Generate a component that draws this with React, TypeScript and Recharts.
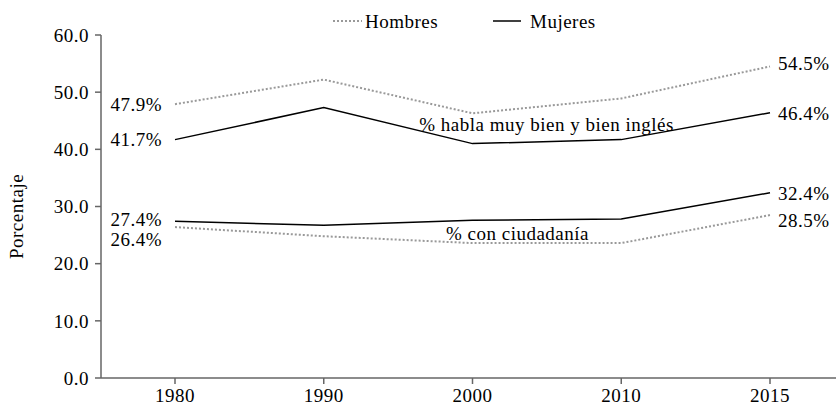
import React from "react";
import {
  LineChart,
  Line,
  XAxis,
  YAxis,
  Legend,
  LabelList,
  ReferenceDot,
} from "recharts";

const years = ["1980", "1990", "2000", "2010", "2015"];
const hombresIngles = [47.9, 52.2, 46.3, 48.9, 54.5];
const mujeresIngles = [41.7, 47.3, 41.0, 41.7, 46.4];
const hombresCiudadania = [26.4, 24.8, 23.6, 23.6, 28.5];
const mujeresCiudadania = [27.4, 26.7, 27.6, 27.8, 32.4];
const yTicks = [0, 10, 20, 30, 40, 50, 60];

const data = years.map((year, i) => ({
  year,
  hIngles: hombresIngles[i],
  mIngles: mujeresIngles[i],
  hCiudad: hombresCiudadania[i],
  mCiudad: mujeresCiudadania[i],
}));

const FONT = "'Liberation Serif', 'DejaVu Serif', serif";
const FS = 19;
const LS = 0.5;
const GRAY = "#999999";

const textStyle = { fontFamily: FONT, fontSize: FS, letterSpacing: LS, fill: "#000" };

// only the first and last points carry a value label
const endLabel = (dyLeft: number, dyRight: number) => (props: any) => {
  const { x, y, value, index } = props;
  if (index !== 0 && index !== years.length - 1) return null;
  const left = index === 0;
  return (
    <text
      x={left ? x - 13 : x + 8}
      y={y + (left ? dyLeft : dyRight)}
      textAnchor={left ? "end" : "start"}
      dominantBaseline="central"
      style={textStyle}
    >
      {value.toFixed(1)}%
    </text>
  );
};

const annotation = (text: string, dx: number) => (props: any) => {
  const { viewBox } = props;
  return (
    <text
      x={viewBox.x + dx}
      y={viewBox.y}
      textAnchor="middle"
      dominantBaseline="central"
      style={textStyle}
    >
      {text}
    </text>
  );
};

const yLabel = (props: any) => {
  const { viewBox } = props;
  const cx = 16;
  const cy = viewBox.y + viewBox.height / 2 + 10;
  return (
    <text
      x={cx}
      y={cy}
      transform={`rotate(-90 ${cx} ${cy})`}
      textAnchor="middle"
      dominantBaseline="central"
      style={textStyle}
    >
      Porcentaje
    </text>
  );
};

const LegendContent = () => (
  <svg width={836} height={24} style={{ display: "block" }}>
    <line x1={333} x2={362} y1={12} y2={12} stroke={GRAY} strokeWidth={2} strokeDasharray="2 2" />
    <text x={365} y={12} dominantBaseline="central" style={textStyle}>Hombres</text>
    <line x1={493} x2={521} y1={12} y2={12} stroke="#000" strokeWidth={1.5} />
    <text x={530} y={12} dominantBaseline="central" style={textStyle}>Mujeres</text>
  </svg>
);

export default function App() {
  return (
    <div style={{ width: 836, height: 411, overflow: "hidden", background: "#fff" }}>
      <style>{`body{margin:0}`}</style>
      <LineChart
        width={836}
        height={411}
        data={data}
        margin={{ top: 11, right: 0, left: 0, bottom: 0 }}
      >
        <Legend
          verticalAlign="top"
          content={<LegendContent />}
          wrapperStyle={{ top: 9, left: 0, width: 836 }}
        />
        <XAxis
          dataKey="year"
          height={33}
          padding={{ left: 74, right: 66 }}
          stroke="#666"
          strokeWidth={1.5}
          tickSize={6}
          tick={textStyle}
          tickMargin={5}
        />
        <YAxis
          width={101}
          domain={[0, 60]}
          ticks={yTicks}
          stroke="#666"
          strokeWidth={1.5}
          tickSize={6}
          tickMargin={6}
          tickFormatter={(v) => v.toFixed(1)}
          tick={textStyle}
          label={yLabel}
        />
        <Line
          dataKey="hIngles"
          stroke={GRAY}
          strokeWidth={2}
          strokeDasharray="2 2"
          dot={false}
          isAnimationActive={false}
        >
          <LabelList content={endLabel(0, -3)} />
        </Line>
        <Line
          dataKey="mIngles"
          stroke="#000"
          strokeWidth={1.5}
          dot={false}
          isAnimationActive={false}
        >
          <LabelList content={endLabel(0, 1)} />
        </Line>
        <Line
          dataKey="hCiudad"
          stroke={GRAY}
          strokeWidth={2}
          strokeDasharray="2 2"
          dot={false}
          isAnimationActive={false}
        >
          <LabelList content={endLabel(12, 5)} />
        </Line>
        <Line
          dataKey="mCiudad"
          stroke="#000"
          strokeWidth={1.5}
          dot={false}
          isAnimationActive={false}
        >
          <LabelList content={endLabel(-2, 1)} />
        </Line>
        <ReferenceDot
          x="2000"
          y={44.4}
          r={0}
          fill="none"
          stroke="none"
          label={annotation("% habla muy bien y bien inglés", 74)}
        />
        <ReferenceDot
          x="2000"
          y={25.2}
          r={0}
          fill="none"
          stroke="none"
          label={annotation("% con ciudadanía", 45)}
        />
      </LineChart>
    </div>
  );
}
